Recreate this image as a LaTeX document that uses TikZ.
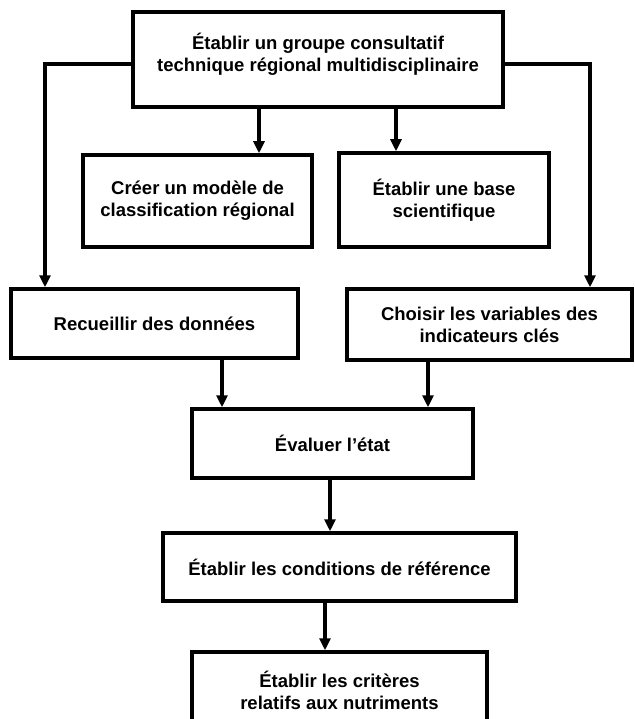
\documentclass[tikz,border=0pt]{standalone}
\usepackage{fontspec}
\setmainfont{Liberation Sans}
\usetikzlibrary{arrows.meta}
\begin{document}
\begin{tikzpicture}[x=1pt,y=-1pt,
  box/.style={draw=black, line width=3.5pt, rectangle, inner sep=0pt, align=center,
    font=\bfseries\fontsize{18.5}{22}\selectfont},
  txt/.style={inner sep=0pt, align=center, font=\bfseries\fontsize{18.5}{22}\selectfont},
  arr/.style={line width=3.5pt, -{Triangle[length=12pt,width=11pt]}}]
\useasboundingbox (0,0) rectangle (634,719);
\clip (0,0) rectangle (634,719);
% boxes
\node[box, minimum width=370, minimum height=95] (top) at (318,59.5) {};
\node[txt] (toptext) at (318,54) {Établir un groupe consultatif\\technique régional multidisciplinaire};
\node[box, minimum width=229, minimum height=92] (crea) at (197.5,201) {Créer un modèle de\\classification régional};
\node[box, minimum width=210, minimum height=94] (base) at (444,200) {Établir une base\\scientifique};
\node[box, minimum width=287, minimum height=69] (rec) at (154.5,323.5) {Recueillir des données};
\node[box, minimum width=285, minimum height=71] (cho) at (489.5,324.5) {Choisir les variables des\\indicateurs clés};
\node[box, minimum width=281, minimum height=69] (eva) at (332.5,443.5) {Évaluer l’état};
\node[box, minimum width=353, minimum height=68] (cond) at (339.5,567) {Établir les conditions de référence};
\node[box, minimum width=295, minimum height=76] (crit) at (339.5,690) {Établir les critères\\relatifs aux nutriments};
% helper coordinates
\coordinate (lc) at (45,64);
\coordinate (rc) at (590,64);
\coordinate (a1) at (259,0);
\coordinate (a2) at (396,0);
\coordinate (a3) at (222,0);
\coordinate (a4) at (428,0);
\coordinate (a5) at (330,0);
\coordinate (a6) at (325,0);
% connectors
\draw[arr] (top.west |- lc) -- (lc) -- (rec.north -| lc);
\draw[arr] (top.east |- rc) -- (rc) -- (cho.north -| rc);
\draw[arr] (top.south -| a1) -- (crea.north -| a1);
\draw[arr] (top.south -| a2) -- (base.north -| a2);
\draw[arr] (rec.south -| a3) -- (eva.north -| a3);
\draw[arr] (cho.south -| a4) -- (eva.north -| a4);
\draw[arr] (eva.south -| a5) -- (cond.north -| a5);
\draw[arr] (cond.south -| a6) -- (crit.north -| a6);
\end{tikzpicture}
\end{document}
